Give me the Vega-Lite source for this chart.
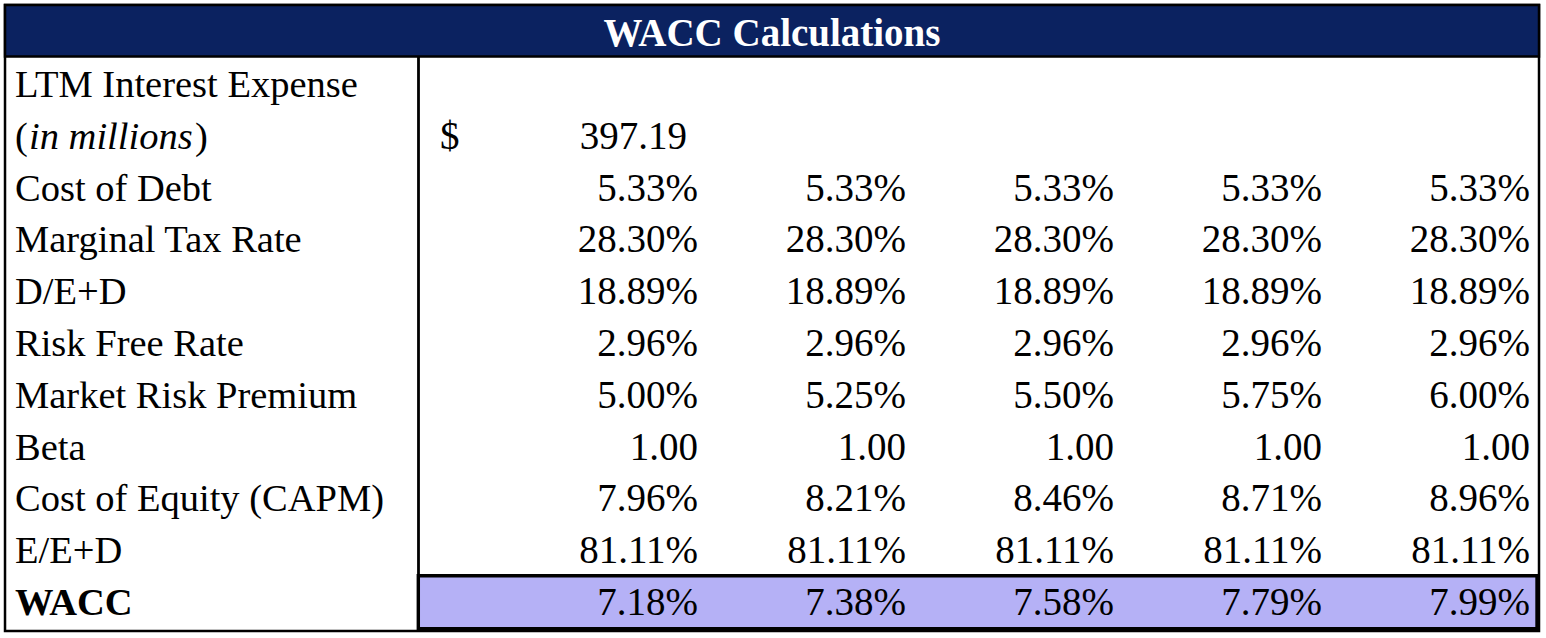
{
  "$schema": "https://vega.github.io/schema/vega-lite/v6.json",
  "width": 1546,
  "height": 638,
  "autosize": {"type": "fit", "contains": "padding"},
  "padding": 0,
  "background": "white",
  "config": {"view": {"stroke": null}},
  "datasets": {
    "title": [{"title": "WACC Calculations"}],
    "labels": [
      {"r": 0, "label": "LTM Interest Expense"},
      {"r": 1, "label": "("},
      {"r": 2, "label": "Cost of Debt"},
      {"r": 3, "label": "Marginal Tax Rate"},
      {"r": 4, "label": "D/E+D"},
      {"r": 5, "label": "Risk Free Rate"},
      {"r": 6, "label": "Market Risk Premium"},
      {"r": 7, "label": "Beta"},
      {"r": 8, "label": "Cost of Equity (CAPM)"},
      {"r": 9, "label": "E/E+D"}
    ],
    "notes": [
      {"r": 1, "part": "in millions"},
      {"r": 1, "part": ")"}
    ],
    "total": [{"r": 10, "label": "WACC"}],
    "interest": [{"r": 1, "cur": "$", "amount": 397.19}],
    "cells": [
      {"metric": "Cost of Debt", "r": 2, "col": 1, "value": 0.0533},
      {"metric": "Cost of Debt", "r": 2, "col": 2, "value": 0.0533},
      {"metric": "Cost of Debt", "r": 2, "col": 3, "value": 0.0533},
      {"metric": "Cost of Debt", "r": 2, "col": 4, "value": 0.0533},
      {"metric": "Cost of Debt", "r": 2, "col": 5, "value": 0.0533},
      {"metric": "Marginal Tax Rate", "r": 3, "col": 1, "value": 0.283},
      {"metric": "Marginal Tax Rate", "r": 3, "col": 2, "value": 0.283},
      {"metric": "Marginal Tax Rate", "r": 3, "col": 3, "value": 0.283},
      {"metric": "Marginal Tax Rate", "r": 3, "col": 4, "value": 0.283},
      {"metric": "Marginal Tax Rate", "r": 3, "col": 5, "value": 0.283},
      {"metric": "D/E+D", "r": 4, "col": 1, "value": 0.1889},
      {"metric": "D/E+D", "r": 4, "col": 2, "value": 0.1889},
      {"metric": "D/E+D", "r": 4, "col": 3, "value": 0.1889},
      {"metric": "D/E+D", "r": 4, "col": 4, "value": 0.1889},
      {"metric": "D/E+D", "r": 4, "col": 5, "value": 0.1889},
      {"metric": "Risk Free Rate", "r": 5, "col": 1, "value": 0.0296},
      {"metric": "Risk Free Rate", "r": 5, "col": 2, "value": 0.0296},
      {"metric": "Risk Free Rate", "r": 5, "col": 3, "value": 0.0296},
      {"metric": "Risk Free Rate", "r": 5, "col": 4, "value": 0.0296},
      {"metric": "Risk Free Rate", "r": 5, "col": 5, "value": 0.0296},
      {"metric": "Market Risk Premium", "r": 6, "col": 1, "value": 0.05},
      {"metric": "Market Risk Premium", "r": 6, "col": 2, "value": 0.0525},
      {"metric": "Market Risk Premium", "r": 6, "col": 3, "value": 0.055},
      {"metric": "Market Risk Premium", "r": 6, "col": 4, "value": 0.0575},
      {"metric": "Market Risk Premium", "r": 6, "col": 5, "value": 0.06},
      {"metric": "Beta", "r": 7, "col": 1, "value": 1.0},
      {"metric": "Beta", "r": 7, "col": 2, "value": 1.0},
      {"metric": "Beta", "r": 7, "col": 3, "value": 1.0},
      {"metric": "Beta", "r": 7, "col": 4, "value": 1.0},
      {"metric": "Beta", "r": 7, "col": 5, "value": 1.0},
      {"metric": "Cost of Equity (CAPM)", "r": 8, "col": 1, "value": 0.0796},
      {"metric": "Cost of Equity (CAPM)", "r": 8, "col": 2, "value": 0.0821},
      {"metric": "Cost of Equity (CAPM)", "r": 8, "col": 3, "value": 0.0846},
      {"metric": "Cost of Equity (CAPM)", "r": 8, "col": 4, "value": 0.0871},
      {"metric": "Cost of Equity (CAPM)", "r": 8, "col": 5, "value": 0.0896},
      {"metric": "E/E+D", "r": 9, "col": 1, "value": 0.8111},
      {"metric": "E/E+D", "r": 9, "col": 2, "value": 0.8111},
      {"metric": "E/E+D", "r": 9, "col": 3, "value": 0.8111},
      {"metric": "E/E+D", "r": 9, "col": 4, "value": 0.8111},
      {"metric": "E/E+D", "r": 9, "col": 5, "value": 0.8111},
      {"metric": "WACC", "r": 10, "col": 1, "value": 0.0718},
      {"metric": "WACC", "r": 10, "col": 2, "value": 0.0738},
      {"metric": "WACC", "r": 10, "col": 3, "value": 0.0758},
      {"metric": "WACC", "r": 10, "col": 4, "value": 0.0779},
      {"metric": "WACC", "r": 10, "col": 5, "value": 0.0799}
    ]
  },
  "layer": [
    {
      "data": {"name": "title"},
      "mark": {"type": "rect", "fill": "white", "stroke": "black", "strokeWidth": 2.5},
      "encoding": {
        "x": {"datum": -2.3317, "type": "quantitative", "scale": {"domain": [-2.3558, 5.0769], "nice": false, "zero": false}, "axis": null},
        "x2": {"datum": 5.0433},
        "y": {"datum": -1.5444, "type": "quantitative", "scale": {"domain": [-1.6409, 10.6757], "reverse": true, "nice": false, "zero": false}, "axis": null},
        "y2": {"datum": 10.5405}
      }
    },
    {
      "data": {"name": "title"},
      "mark": {"type": "rect", "fill": "#0b2260", "stroke": "black", "strokeWidth": 2.5},
      "encoding": {
        "x": {"datum": -2.3317, "type": "quantitative", "scale": {"domain": [-2.3558, 5.0769], "nice": false, "zero": false}, "axis": null},
        "x2": {"datum": 5.0433},
        "y": {"datum": -1.5444, "type": "quantitative", "scale": {"domain": [-1.6409, 10.6757], "reverse": true, "nice": false, "zero": false}, "axis": null},
        "y2": {"datum": -0.5502}
      }
    },
    {
      "data": {"name": "title"},
      "mark": {"type": "rule", "stroke": "black", "strokeWidth": 2.8},
      "encoding": {
        "x": {"datum": -0.3438, "type": "quantitative", "scale": {"domain": [-2.3558, 5.0769], "nice": false, "zero": false}, "axis": null},
        "y": {"datum": -0.5502, "type": "quantitative", "scale": {"domain": [-1.6409, 10.6757], "reverse": true, "nice": false, "zero": false}, "axis": null},
        "y2": {"datum": 10.5405}
      }
    },
    {
      "data": {"name": "total"},
      "mark": {"type": "rect", "fill": "#b5b1f6", "stroke": "black", "strokeWidth": 3.4},
      "encoding": {
        "x": {"datum": -0.3447, "type": "quantitative", "scale": {"domain": [-2.3558, 5.0769], "nice": false, "zero": false}, "axis": null},
        "x2": {"datum": 5.0337},
        "y": {"datum": 9.473, "type": "quantitative", "scale": {"domain": [-1.6409, 10.6757], "reverse": true, "nice": false, "zero": false}, "axis": null},
        "y2": {"datum": 10.4961}
      }
    },
    {
      "data": {"name": "title"},
      "mark": {"type": "text", "font": "Liberation Serif", "fontSize": 39, "fontWeight": "bold", "color": "white", "align": "center", "baseline": "middle", "dy": 1},
      "encoding": {
        "x": {"datum": 1.3558, "type": "quantitative", "scale": {"domain": [-2.3558, 5.0769], "nice": false, "zero": false}, "axis": null},
        "y": {"datum": -1.01, "type": "quantitative", "scale": {"domain": [-1.6409, 10.6757], "reverse": true, "nice": false, "zero": false}, "axis": null},
        "text": {"field": "title"}
      }
    },
    {
      "data": {"name": "labels"},
      "mark": {"type": "text", "font": "Liberation Serif", "fontSize": 38.5, "color": "black", "align": "left", "baseline": "middle", "dy": 0},
      "encoding": {
        "x": {"datum": -2.2837, "type": "quantitative", "scale": {"domain": [-2.3558, 5.0769], "nice": false, "zero": false}, "axis": null},
        "y": {"field": "r", "type": "quantitative", "scale": {"domain": [-1.6409, 10.6757], "reverse": true, "nice": false, "zero": false}, "axis": null},
        "text": {"field": "label"}
      }
    },
    {
      "data": {"name": "notes"},
      "transform": [{"filter": "datum.part === 'in millions'"}],
      "mark": {"type": "text", "font": "Liberation Serif", "fontSize": 38.5, "fontStyle": "italic", "color": "black", "align": "left", "baseline": "middle", "dy": 0},
      "encoding": {
        "x": {"datum": -2.2163, "type": "quantitative", "scale": {"domain": [-2.3558, 5.0769], "nice": false, "zero": false}, "axis": null},
        "y": {"field": "r", "type": "quantitative", "scale": {"domain": [-1.6409, 10.6757], "reverse": true, "nice": false, "zero": false}, "axis": null},
        "text": {"field": "part"}
      }
    },
    {
      "data": {"name": "notes"},
      "transform": [{"filter": "datum.part === ')'"}],
      "mark": {"type": "text", "font": "Liberation Serif", "fontSize": 38.5, "color": "black", "align": "left", "baseline": "middle", "dy": 0},
      "encoding": {
        "x": {"datum": -1.4183, "type": "quantitative", "scale": {"domain": [-2.3558, 5.0769], "nice": false, "zero": false}, "axis": null},
        "y": {"field": "r", "type": "quantitative", "scale": {"domain": [-1.6409, 10.6757], "reverse": true, "nice": false, "zero": false}, "axis": null},
        "text": {"field": "part"}
      }
    },
    {
      "data": {"name": "total"},
      "mark": {"type": "text", "font": "Liberation Serif", "fontSize": 38.5, "fontWeight": "bold", "color": "black", "align": "left", "baseline": "middle", "dy": 0},
      "encoding": {
        "x": {"datum": -2.2837, "type": "quantitative", "scale": {"domain": [-2.3558, 5.0769], "nice": false, "zero": false}, "axis": null},
        "y": {"field": "r", "type": "quantitative", "scale": {"domain": [-1.6409, 10.6757], "reverse": true, "nice": false, "zero": false}, "axis": null},
        "text": {"field": "label"}
      }
    },
    {
      "data": {"name": "interest"},
      "mark": {"type": "text", "font": "Liberation Serif", "fontSize": 39, "color": "black", "align": "left", "baseline": "middle", "dy": 0},
      "encoding": {
        "x": {"datum": -0.2404, "type": "quantitative", "scale": {"domain": [-2.3558, 5.0769], "nice": false, "zero": false}, "axis": null},
        "y": {"field": "r", "type": "quantitative", "scale": {"domain": [-1.6409, 10.6757], "reverse": true, "nice": false, "zero": false}, "axis": null},
        "text": {"field": "cur"}
      }
    },
    {
      "data": {"name": "interest"},
      "mark": {"type": "text", "font": "Liberation Serif", "fontSize": 39, "color": "black", "align": "right", "baseline": "middle", "dy": 0},
      "encoding": {
        "x": {"datum": 0.9471, "type": "quantitative", "scale": {"domain": [-2.3558, 5.0769], "nice": false, "zero": false}, "axis": null},
        "y": {"field": "r", "type": "quantitative", "scale": {"domain": [-1.6409, 10.6757], "reverse": true, "nice": false, "zero": false}, "axis": null},
        "text": {"field": "amount", "type": "quantitative", "format": ".2f"}
      }
    },
    {
      "data": {"name": "cells"},
      "transform": [{"filter": "datum.metric !== 'Beta'"}],
      "mark": {"type": "text", "font": "Liberation Serif", "fontSize": 39, "color": "black", "align": "right", "baseline": "middle", "dy": 0},
      "encoding": {
        "x": {"field": "col", "type": "quantitative", "scale": {"domain": [-2.3558, 5.0769], "nice": false, "zero": false}, "axis": null},
        "y": {"field": "r", "type": "quantitative", "scale": {"domain": [-1.6409, 10.6757], "reverse": true, "nice": false, "zero": false}, "axis": null},
        "text": {"field": "value", "type": "quantitative", "format": ".2%"}
      }
    },
    {
      "data": {"name": "cells"},
      "transform": [{"filter": "datum.metric === 'Beta'"}],
      "mark": {"type": "text", "font": "Liberation Serif", "fontSize": 39, "color": "black", "align": "right", "baseline": "middle", "dy": 0},
      "encoding": {
        "x": {"field": "col", "type": "quantitative", "scale": {"domain": [-2.3558, 5.0769], "nice": false, "zero": false}, "axis": null},
        "y": {"field": "r", "type": "quantitative", "scale": {"domain": [-1.6409, 10.6757], "reverse": true, "nice": false, "zero": false}, "axis": null},
        "text": {"field": "value", "type": "quantitative", "format": ".2f"}
      }
    }
  ]
}
